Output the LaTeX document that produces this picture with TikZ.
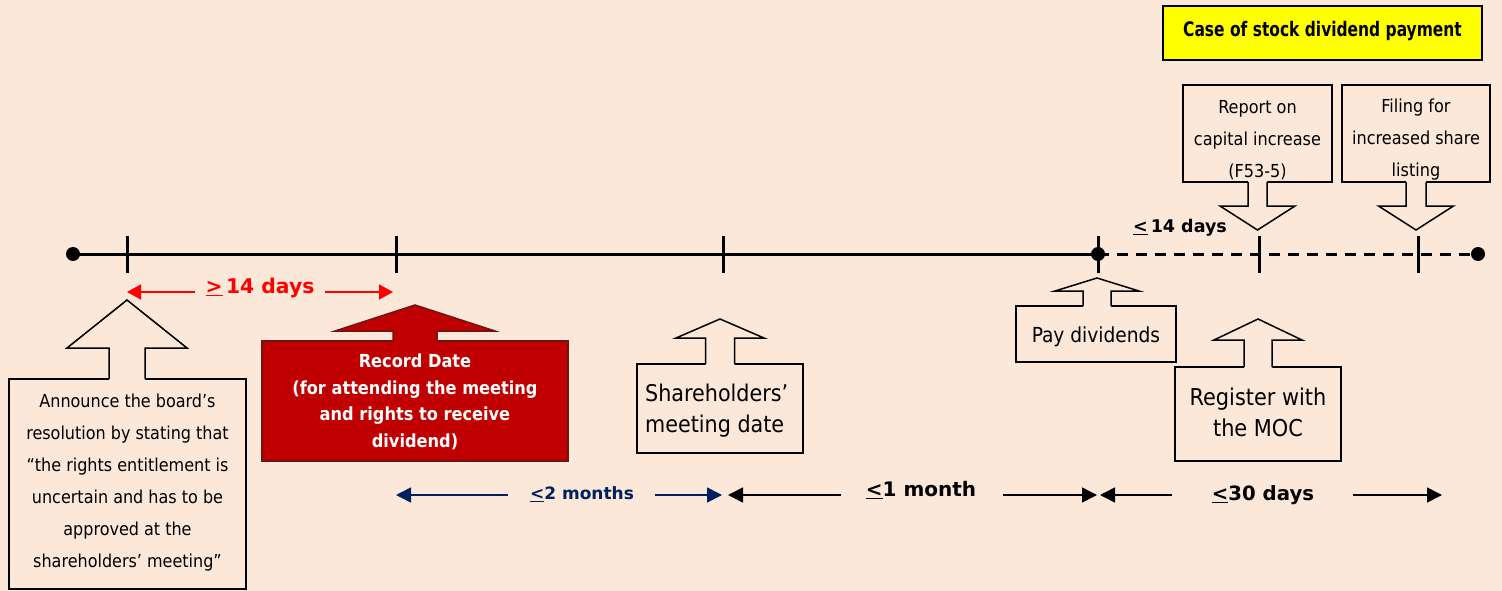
\documentclass[tikz,border=0pt]{standalone}
\usepackage{fontspec}
\setmainfont{DejaVu Sans Condensed}
\newfontfamily\widesans{DejaVu Sans}
\usetikzlibrary{arrows.meta}

\definecolor{bg}{HTML}{FCE8D9}
\definecolor{recred}{HTML}{C00000}
\definecolor{recedge}{HTML}{6E1414}
\definecolor{navy}{HTML}{002060}
\definecolor{hiyellow}{HTML}{FFFF00}
\definecolor{spanred}{HTML}{FF0000}

% Up-pointing block arrow sitting on a box top:
% #1 tip x, #2 tip y, #3 head half width, #4 head base y,
% #5 stem half width, #6 box top y, #7 fill colour, #8 edge colour
\newcommand\upcallout[8]{%
  \fill[#7] (#1-#5,#6+1.5) -- (#1-#5,#4) -- (#1-#3,#4) -- (#1,#2)
    -- (#1+#3,#4) -- (#1+#5,#4) -- (#1+#5,#6+1.5) -- cycle;
  \draw[#8, line width=1.5pt, line join=miter] (#1-#5,#6) -- (#1-#5,#4)
    -- (#1-#3,#4) -- (#1,#2) -- (#1+#3,#4) -- (#1+#5,#4) -- (#1+#5,#6);
}
% Down-pointing block arrow hanging under a box bottom:
% #1 tip x, #2 tip y, #3 head half width, #4 head base y,
% #5 stem half width, #6 box bottom y
\newcommand\downcallout[6]{%
  \fill[bg] (#1-#5,#6-1.5) -- (#1-#5,#4) -- (#1-#3,#4) -- (#1,#2)
    -- (#1+#3,#4) -- (#1+#5,#4) -- (#1+#5,#6-1.5) -- cycle;
  \draw[black, line width=1.5pt, line join=miter] (#1-#5,#6) -- (#1-#5,#4)
    -- (#1-#3,#4) -- (#1,#2) -- (#1+#3,#4) -- (#1+#5,#4) -- (#1+#5,#6);
}

\begin{document}
\begin{tikzpicture}[x=1pt,y=-1pt,
  axis/.style={line width=3pt},
  axisdash/.style={line width=3pt, dash pattern=on 11pt off 8pt},
  tickmark/.style={line width=3pt},
  box/.style={draw=black, line width=1.5pt, fill=bg, rectangle, inner sep=0pt},
  txt/.style={inner sep=0pt, align=center, text=black},
  spanblack/.style={line width=1.6pt, draw=black, -{Triangle[length=15pt,width=15pt]}},
  spannavy/.style={line width=1.6pt, draw=navy, -{Triangle[length=15pt,width=15pt]}},
  spanredarr/.style={line width=1.8pt, draw=spanred, -{Triangle[length=14pt,width=15pt]}},
  spanlabel/.style={inner sep=0pt}
]
\fill[bg] (0,0) rectangle (1502,591);
\useasboundingbox (0,0) rectangle (1502,591);

% ---------- timeline ----------
\coordinate (start) at (73,254);
\coordinate (t1) at (127,254);
\coordinate (t2) at (396,254);
\coordinate (t3) at (723,254);
\coordinate (pay) at (1098,254);
\coordinate (t5) at (1259,254);
\coordinate (t6) at (1418,254);
\coordinate (stop) at (1478,254);

\draw[axis] (start) -- (pay);
\draw[axisdash] (pay) -- (stop);
\foreach \p in {t1,t2,t3,pay,t5,t6}
  \draw[tickmark] (\p) ++(0,-18) -- ++(0,37);
\foreach \p in {start,pay,stop}
  \fill (\p) circle (7);

% ---------- title ----------
\node[box, fill=hiyellow, minimum width=319pt, minimum height=54pt] (title) at (1322.5,33) {};
\node[txt, font=\fontsize{20}{22}\selectfont\bfseries] (titletext) at (1322.5,31)
  {\scalebox{0.86}[1]{Case of stock dividend payment}};

% ---------- announce ----------
\node[box, minimum width=237pt, minimum height=210pt] (announce) at (127.5,484) {};
\upcallout{127}{300}{60}{348}{18}{379}{bg}{black}
\node[txt, font=\fontsize{17.8}{32}\selectfont] (announcetext) at (127.5,483)
  {Announce the board’s\\
   resolution by stating that\\
   “the rights entitlement is\\
   uncertain and has to be\\
   approved at the\\
   shareholders’ meeting”};

% ---------- record date ----------
\node[box, fill=recred, draw=recedge, minimum width=306pt, minimum height=120pt] (record) at (415,401) {};
\upcallout{415}{305}{80}{331}{22}{341}{recred}{recedge}
\node[txt, text=white, font=\fontsize{18}{26.5}\selectfont\bfseries] (recordtext) at (415,402)
  {Record Date\\
   (for attending the meeting\\
   and rights to receive\\
   dividend)};

% ---------- shareholders' meeting ----------
\node[box, minimum width=166pt, minimum height=89pt] (meeting) at (720,408.5) {};
\upcallout{720}{319}{44}{338}{14.5}{364}{bg}{black}
\node[txt, anchor=west, align=left, font=\fontsize{23}{31}\selectfont] (meetingtext) at (645,411)
  {Shareholders’\\ meeting date};

% ---------- pay dividends ----------
\node[box, minimum width=160pt, minimum height=56pt] (paybox) at (1096,334) {};
\upcallout{1097}{278}{42}{291}{14}{306}{bg}{black}
\node[txt, font=\fontsize{20.7}{24}\selectfont] (paytext) at (1096,337)
  {Pay dividends};

% ---------- register with the MOC ----------
\node[box, minimum width=166pt, minimum height=94pt] (register) at (1258,414) {};
\upcallout{1258}{319}{44}{340}{14}{367}{bg}{black}
\node[txt, font=\fontsize{23.2}{31}\selectfont] (registertext) at (1258,412)
  {Register with\\ the MOC};

% ---------- report on capital increase ----------
\node[box, minimum width=149pt, minimum height=97pt] (report) at (1257.5,133.5) {};
\downcallout{1257.5}{230}{37.5}{206}{9.5}{182}
\node[txt, font=\fontsize{17.9}{32}\selectfont] (reporttext) at (1257.5,140)
  {Report on\\ capital increase\\ (F53-5)};

% ---------- filing for share listing ----------
\node[box, minimum width=148pt, minimum height=97pt] (filing) at (1416,133.5) {};
\downcallout{1416}{230}{37.5}{206}{10}{182}
\node[txt, font=\fontsize{17.9}{32}\selectfont] (filingtext) at (1416,140)
  {Filing for\\ increased share\\ listing};

% ---------- spans ----------
\node[spanlabel, text=spanred, font=\widesans\fontsize{20.3}{22}\selectfont\bfseries] (gap14) at (260,288)
  {\underline{>}\,14 days};
\coordinate (r1a) at (195,292);
\coordinate (r1b) at (325,292);
\draw[spanredarr] (r1a) -- (t1 |- r1a);
\draw[spanredarr] (r1b) -- ([xshift=-3pt]t2 |- r1b);

\node[spanlabel, font=\widesans\fontsize{17.5}{19}\selectfont\bfseries] (within14) at (1180,228)
  {\underline{<}\,14 days};

\node[spanlabel, text=navy, font=\widesans\fontsize{17}{19}\selectfont\bfseries] (twomonths) at (582,494)
  {\underline{<}2 months};
\coordinate (n1a) at (508,495);
\coordinate (n1b) at (655,495);
\draw[spannavy] (n1a) -- (t2 |- n1a);
\draw[spannavy] (n1b) -- ([xshift=-1pt]t3 |- n1b);

\node[spanlabel, font=\widesans\fontsize{20}{22}\selectfont\bfseries] (onemonth) at (921,490)
  {\underline{<}1 month};
\coordinate (b1a) at (841,495);
\coordinate (b1b) at (1003,495);
\draw[spanblack] (b1a) -- ([xshift=5pt]t3 |- b1a);
\draw[spanblack] (b1b) -- ([xshift=-1pt]pay |- b1b);

\node[spanlabel, font=\widesans\fontsize{19.7}{22}\selectfont\bfseries] (thirtydays) at (1263,495)
  {\underline{<}30 days};
\coordinate (c1a) at (1172,495);
\coordinate (c1b) at (1353,495);
\coordinate (c1end) at (1442,495);
\draw[spanblack] (c1a) -- ([xshift=2pt]pay |- c1a);
\draw[spanblack] (c1b) -- (c1end);
\end{tikzpicture}
\end{document}
